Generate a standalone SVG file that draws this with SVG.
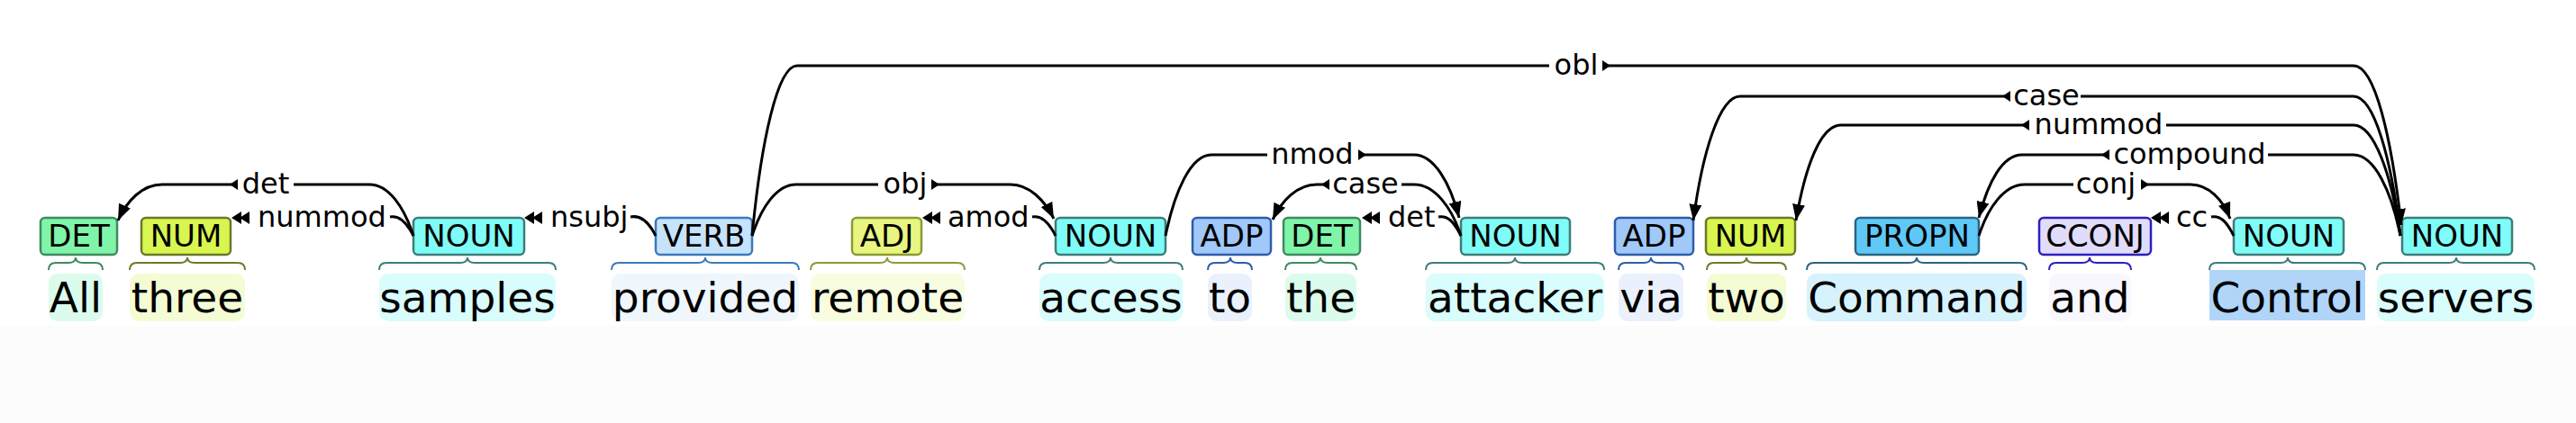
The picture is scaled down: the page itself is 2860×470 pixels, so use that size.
<svg xmlns="http://www.w3.org/2000/svg" width="2860" height="470" viewBox="0 0 2860 470">
<defs>
<marker id="ah" markerUnits="userSpaceOnUse" markerWidth="20" markerHeight="14" refX="18" refY="7" orient="auto"><path d="M0,0 L18,7 L0,14 z" fill="#000"/></marker>
<style>
.w{font-family:"DejaVu Sans","Liberation Sans",sans-serif;font-size:47px;fill:#000;text-anchor:middle}
.t{font-family:"DejaVu Sans","Liberation Sans",sans-serif;font-size:34px;fill:#000;text-anchor:middle}
.l{font-family:"DejaVu Sans","Liberation Sans",sans-serif;font-size:32px;fill:#000;text-anchor:middle}
.li{font-family:"DejaVu Sans","Liberation Sans",sans-serif;font-size:32px;fill:#000;text-anchor:start}
.e{fill:none;stroke:#000;stroke-width:3}
.br{fill:none;stroke-width:2}
.bx{stroke-width:2.5}
.NOUN{fill:#7ffcf7;stroke:#3d7d7a}.bNOUN{stroke:#3d7d7a}.hNOUN{fill:#d9fcfc}
.DET{fill:#80f5aa;stroke:#3f8a5f}.bDET{stroke:#3f8a5f}.hDET{fill:#dbfcec}
.NUM{fill:#d9f550;stroke:#6b7a2a}.bNUM{stroke:#6b7a2a}.hNUM{fill:#f4fcd4}
.VERB{fill:#c5e3fa;stroke:#3a7abd}.bVERB{stroke:#3a7abd}.hVERB{fill:#eff6fc}
.ADJ{fill:#e8f580;stroke:#8a9c35}.bADJ{stroke:#8a9c35}.hADJ{fill:#f8fde0}
.ADP{fill:#a0c8f8;stroke:#2d5cab}.bADP{stroke:#2d5cab}.hADP{fill:#eaf1fd}
.PROPN{fill:#5ec9f7;stroke:#2c6482}.bPROPN{stroke:#2c6482}.hPROPN{fill:#d6f2fc}
.CCONJ{fill:#e1dcfa;stroke:#2a1fbf}.bCCONJ{stroke:#2a1fbf}.hCCONJ{fill:#f8f7fe}
.sel{fill:#b0d5f8}
</style>
</defs>
<rect x="0" y="0" width="2860" height="470" fill="#ffffff"/>
<rect x="0" y="362" width="2860" height="108" fill="#fcfcfc"/>

<g id="tok1"><rect class="hDET" x="54" y="304" width="60" height="53" rx="10"/><path class="br bDET" d="M54 300 Q54 292 62 292 L76 292 Q84 292 84 286 Q84 292 92 292 L106 292 Q114 292 114 300"/><text class="w" x="84" y="347">All</text><rect class="bx DET" x="45" y="242" width="85" height="41" rx="5"/><text class="t" x="87.5" y="274">DET</text></g>
<g id="tok2"><rect class="hNUM" x="144" y="304" width="128" height="53" rx="10"/><path class="br bNUM" d="M144 300 Q144 292 152 292 L200 292 Q208 292 208 286 Q208 292 216 292 L264 292 Q272 292 272 300"/><text class="w" x="208" y="347">three</text><rect class="bx NUM" x="157" y="242" width="99" height="41" rx="5"/><text class="t" x="206.5" y="274">NUM</text></g>
<g id="tok3"><rect class="hNOUN" x="421" y="304" width="196" height="53" rx="10"/><path class="br bNOUN" d="M421 300 Q421 292 429 292 L511 292 Q519 292 519 286 Q519 292 527 292 L609 292 Q617 292 617 300"/><text class="w" x="519" y="347">samples</text><rect class="bx NOUN" x="459" y="242" width="123" height="41" rx="5"/><text class="t" x="520.5" y="274">NOUN</text></g>
<g id="tok4"><rect class="hVERB" x="679" y="304" width="208" height="53" rx="10"/><path class="br bVERB" d="M679 300 Q679 292 687 292 L775 292 Q783 292 783 286 Q783 292 791 292 L879 292 Q887 292 887 300"/><text class="w" x="783" y="347">provided</text><rect class="bx VERB" x="728" y="242" width="107" height="41" rx="5"/><text class="t" x="781.5" y="274">VERB</text></g>
<g id="tok5"><rect class="hADJ" x="900" y="304" width="171" height="53" rx="10"/><path class="br bADJ" d="M900 300 Q900 292 908 292 L977 292 Q985 292 985 286 Q985 292 993 292 L1063 292 Q1071 292 1071 300"/><text class="w" x="985.5" y="347">remote</text><rect class="bx ADJ" x="946" y="242" width="77" height="41" rx="5"/><text class="t" x="984.5" y="274">ADJ</text></g>
<g id="tok6"><rect class="hNOUN" x="1154" y="304" width="159" height="53" rx="10"/><path class="br bNOUN" d="M1154 300 Q1154 292 1162 292 L1225 292 Q1233 292 1233 286 Q1233 292 1241 292 L1305 292 Q1313 292 1313 300"/><text class="w" x="1233.5" y="347">access</text><rect class="bx NOUN" x="1172" y="242" width="122" height="41" rx="5"/><text class="t" x="1233" y="274">NOUN</text></g>
<g id="tok7"><rect class="hADP" x="1341" y="304" width="49" height="53" rx="10"/><path class="br bADP" d="M1341 300 Q1341 292 1349 292 L1358 292 Q1366 292 1366 286 Q1366 292 1374 292 L1382 292 Q1390 292 1390 300"/><text class="w" x="1365.5" y="347">to</text><rect class="bx ADP" x="1324" y="242" width="87" height="41" rx="5"/><text class="t" x="1367.5" y="274">ADP</text></g>
<g id="tok8"><rect class="hDET" x="1427" y="304" width="79" height="53" rx="10"/><path class="br bDET" d="M1427 300 Q1427 292 1435 292 L1458 292 Q1466 292 1466 286 Q1466 292 1474 292 L1498 292 Q1506 292 1506 300"/><text class="w" x="1466.5" y="347">the</text><rect class="bx DET" x="1425" y="242" width="85" height="41" rx="5"/><text class="t" x="1467.5" y="274">DET</text></g>
<g id="tok9"><rect class="hNOUN" x="1583" y="304" width="198" height="53" rx="10"/><path class="br bNOUN" d="M1583 300 Q1583 292 1591 292 L1674 292 Q1682 292 1682 286 Q1682 292 1690 292 L1773 292 Q1781 292 1781 300"/><text class="w" x="1682" y="347">attacker</text><rect class="bx NOUN" x="1622" y="242" width="121" height="41" rx="5"/><text class="t" x="1682.5" y="274">NOUN</text></g>
<g id="tok10"><rect class="hADP" x="1797" y="304" width="72" height="53" rx="10"/><path class="br bADP" d="M1797 300 Q1797 292 1805 292 L1825 292 Q1833 292 1833 286 Q1833 292 1841 292 L1861 292 Q1869 292 1869 300"/><text class="w" x="1833" y="347">via</text><rect class="bx ADP" x="1793" y="242" width="87" height="41" rx="5"/><text class="t" x="1836.5" y="274">ADP</text></g>
<g id="tok11"><rect class="hNUM" x="1895" y="304" width="88" height="53" rx="10"/><path class="br bNUM" d="M1895 300 Q1895 292 1903 292 L1931 292 Q1939 292 1939 286 Q1939 292 1947 292 L1975 292 Q1983 292 1983 300"/><text class="w" x="1939" y="347">two</text><rect class="bx NUM" x="1894" y="242" width="99" height="41" rx="5"/><text class="t" x="1943.5" y="274">NUM</text></g>
<g id="tok12"><rect class="hPROPN" x="2006" y="304" width="244" height="53" rx="10"/><path class="br bPROPN" d="M2006 300 Q2006 292 2014 292 L2120 292 Q2128 292 2128 286 Q2128 292 2136 292 L2242 292 Q2250 292 2250 300"/><text class="w" x="2128" y="347">Command</text><rect class="bx PROPN" x="2060" y="242" width="137" height="41" rx="5"/><text class="t" x="2128.5" y="274">PROPN</text></g>
<g id="tok13"><rect class="hCCONJ" x="2275" y="304" width="91" height="53" rx="10"/><path class="br bCCONJ" d="M2275 300 Q2275 292 2283 292 L2312 292 Q2320 292 2320 286 Q2320 292 2328 292 L2358 292 Q2366 292 2366 300"/><text class="w" x="2320.5" y="347">and</text><rect class="bx CCONJ" x="2264" y="242" width="124" height="41" rx="5"/><text class="t" x="2326" y="274">CCONJ</text></g>
<g id="tok14"><rect class="sel" x="2453" y="300" width="173" height="56"/><path class="br bNOUN" d="M2453 300 Q2453 292 2461 292 L2532 292 Q2540 292 2540 286 Q2540 292 2548 292 L2618 292 Q2626 292 2626 300"/><text class="w" x="2539.5" y="347">Control</text><rect class="bx NOUN" x="2480" y="242" width="122" height="41" rx="5"/><text class="t" x="2541" y="274">NOUN</text></g>
<g id="tok15"><rect class="hNOUN" x="2639" y="304" width="175" height="53" rx="10"/><path class="br bNOUN" d="M2639 300 Q2639 292 2647 292 L2719 292 Q2727 292 2727 286 Q2727 292 2735 292 L2806 292 Q2814 292 2814 300"/><text class="w" x="2726.5" y="347">servers</text><rect class="bx NOUN" x="2667" y="242" width="122" height="41" rx="5"/><text class="t" x="2728" y="274">NOUN</text></g>

<g id="connectors">
<!-- det samples->All -->
<path class="e" d="M326 205 L410 205 C432 205 449 231 459 262"/>
<path class="e" d="M258 205 L180 205 C158 205 141 223 131 245" marker-end="url(#ah)"/>
<polygon points="255,205 264,199 264,211"/>
<text class="l" x="295" y="215">det</text>
<!-- nummod samples->three -->
<polygon points="257,242 268,235 268,249"/><polygon points="266,242 277,235 277,249"/>
<text class="li" x="286" y="252">nummod</text>
<path class="e" d="M433 241 C443 239 451 246 459 262"/>
<!-- nsubj provided->samples -->
<polygon points="582,242 593,235 593,249"/><polygon points="591,242 602,235 602,249"/>
<text class="li" x="611" y="252">nsubj</text>
<path class="e" d="M700 241 C710 239 720 246 728 262"/>
<!-- obj provided->access -->
<path class="e" d="M975 205 L884 205 C862 205 845 231 835 262"/>
<path class="e" d="M1040 205 L1122 205 C1143 205 1160 223 1170 243" marker-end="url(#ah)"/>
<polygon points="1043,205 1034,199 1034,211"/>
<text class="l" x="1005" y="215">obj</text>
<!-- amod access->remote -->
<polygon points="1024,242 1035,235 1035,249"/><polygon points="1033,242 1044,235 1044,249"/>
<text class="li" x="1052" y="252">amod</text>
<path class="e" d="M1146 241 C1156 239 1164 246 1172 262"/>
<!-- obl provided->servers -->
<path class="e" d="M1720 73 L885 73 C863 73 845 158 835 262"/>
<path class="e" d="M1785 73 L2613 73 C2637 73 2655 153 2666 250" marker-end="url(#ah)"/>
<polygon points="1788,73 1779,67 1779,79"/>
<text class="l" x="1750" y="83">obl</text>
<!-- nmod access->attacker -->
<path class="e" d="M1407 172 L1345 172 C1322 172 1304 213 1294 262"/>
<path class="e" d="M1514 172 L1570 172 C1592 172 1610 203 1620 242" marker-end="url(#ah)"/>
<polygon points="1517,172 1508,166 1508,178"/>
<text class="l" x="1457" y="182">nmod</text>
<!-- case attacker->to -->
<path class="e" d="M1556 205 L1570 205 C1593 205 1612 231 1622 262"/>
<path class="e" d="M1470 205 L1462 205 C1440 205 1423 223 1413 244" marker-end="url(#ah)"/>
<polygon points="1467,205 1476,199 1476,211"/>
<text class="l" x="1516" y="215">case</text>
<!-- det attacker->the -->
<polygon points="1512,242 1523,235 1523,249"/><polygon points="1521,242 1532,235 1532,249"/>
<text class="li" x="1541" y="252">det</text>
<path class="e" d="M1597 241 C1607 239 1614 246 1622 262"/>
<!-- case servers->via -->
<path class="e" d="M2310 107 L2613 107 C2636 107 2655 177 2665 262"/>
<path class="e" d="M2226 107 L1932 107 C1909 107 1890 170 1880 245" marker-end="url(#ah)"/>
<polygon points="2223,107 2232,101 2232,113"/>
<text class="l" x="2272" y="117">case</text>
<!-- nummod servers->two -->
<path class="e" d="M2405 139 L2613 139 C2636 139 2655 194 2665 262"/>
<path class="e" d="M2247 139 L2044 139 C2021 139 2004 186 1994 245" marker-end="url(#ah)"/>
<polygon points="2244,139 2253,133 2253,145"/>
<text class="l" x="2330" y="149">nummod</text>
<!-- compound servers->Command -->
<path class="e" d="M2518 172 L2613 172 C2636 172 2655 212 2665 262"/>
<path class="e" d="M2336 172 L2245 172 C2223 172 2207 203 2197 242" marker-end="url(#ah)"/>
<polygon points="2333,172 2342,166 2342,178"/>
<text class="l" x="2431" y="182">compound</text>
<!-- conj Command->Control -->
<path class="e" d="M2302 205 L2248 205 C2225 205 2207 231 2197 262"/>
<path class="e" d="M2383 205 L2432 205 C2452 205 2468 222 2476 243" marker-end="url(#ah)"/>
<polygon points="2386,205 2377,199 2377,211"/>
<text class="l" x="2338" y="215">conj</text>
<!-- cc Control->and -->
<polygon points="2388,242 2399,235 2399,249"/><polygon points="2397,242 2408,235 2408,249"/>
<text class="li" x="2416" y="252">cc</text>
<path class="e" d="M2455 241 C2465 239 2472 246 2480 262"/>
</g>
</svg>
